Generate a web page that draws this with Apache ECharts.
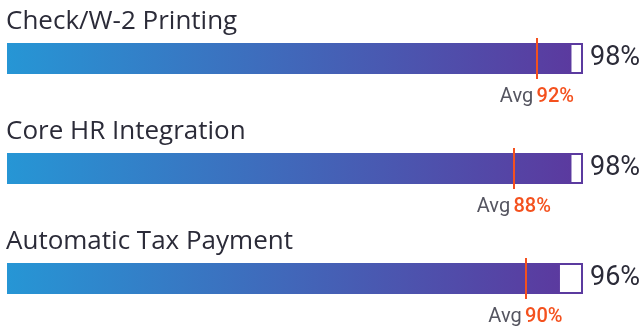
<!DOCTYPE html>
<html>
<head>
<meta charset="utf-8">
<script src="https://cdn.jsdelivr.net/npm/echarts@6/dist/echarts.min.js"></script>
<style>
  html, body { margin: 0; padding: 0; background: #ffffff; }
  #chart { width: 644px; height: 327px; }
</style>
</head>
<body>
<div id="chart"></div>
<script>
// Feature ratings with the industry average for each
const categories = ['Check/W-2 Printing', 'Core HR Integration', 'Automatic Tax Payment'];
const scores = [98, 98, 96];
const averages = [92, 88, 90];

const FONT = 'Roboto, "Noto Sans", sans-serif';
const TITLE_FONT = '"Open Sans", Roboto, sans-serif';
const PURPLE = '#5b3a9f';
const BLUE = '#2696d5';
const ROW = 110;

const chart = echarts.init(document.getElementById('chart'), null, { renderer: 'canvas' });

const grid = [], xAxis = [], yAxis = [], series = [], graphic = [];

categories.forEach((name, i) => {
  grid.push({ left: 7, right: 61, top: 38 + i * ROW, height: 41 });
  xAxis.push({ gridIndex: i, type: 'value', min: 0, max: 100, show: false });
  yAxis.push({ gridIndex: i, type: 'category', data: [name], show: false });

  // full-length track with the score printed after it
  series.push({
    type: 'bar', xAxisIndex: i, yAxisIndex: i, barWidth: 31, barGap: '-100%',
    silent: true, animation: false,
    data: [100],
    itemStyle: { color: '#ffffff', borderColor: PURPLE, borderWidth: 2 },
    label: {
      show: true, position: 'right', distance: 7,
      formatter: () => scores[i] + '%',
      fontFamily: FONT, fontSize: 27, color: '#2b2b38'
    }
  });

  // filled portion with the average marker
  series.push({
    type: 'bar', xAxisIndex: i, yAxisIndex: i, barWidth: 31, barGap: '-100%',
    silent: true, animation: false,
    data: [scores[i]],
    itemStyle: {
      color: new echarts.graphic.LinearGradient(0, 0, 1, 0, [
        { offset: 0, color: BLUE },
        { offset: 1, color: PURPLE }
      ])
    },
    markLine: {
      silent: true, symbol: 'none', animation: false,
      lineStyle: { color: '#f4511e', width: 2, type: 'solid' },
      data: [{ xAxis: averages[i] }],
      label: {
        show: true, position: 'start', distance: 8,
        formatter: () => '{a|Avg} {b|' + averages[i] + '%}',
        rich: {
          a: { fontFamily: FONT, fontSize: 20, color: '#555560' },
          b: { fontFamily: FONT, fontSize: 20, color: '#f4511e', fontWeight: 500 }
        }
      }
    }
  });

  graphic.push({
    type: 'text', left: 6, top: 9 + i * ROW,
    style: { text: name, font: '26px ' + TITLE_FONT, fill: '#2b2b38' }
  });
});

chart.setOption({ animation: false, grid, xAxis, yAxis, series, graphic });
</script>
</body>
</html>
